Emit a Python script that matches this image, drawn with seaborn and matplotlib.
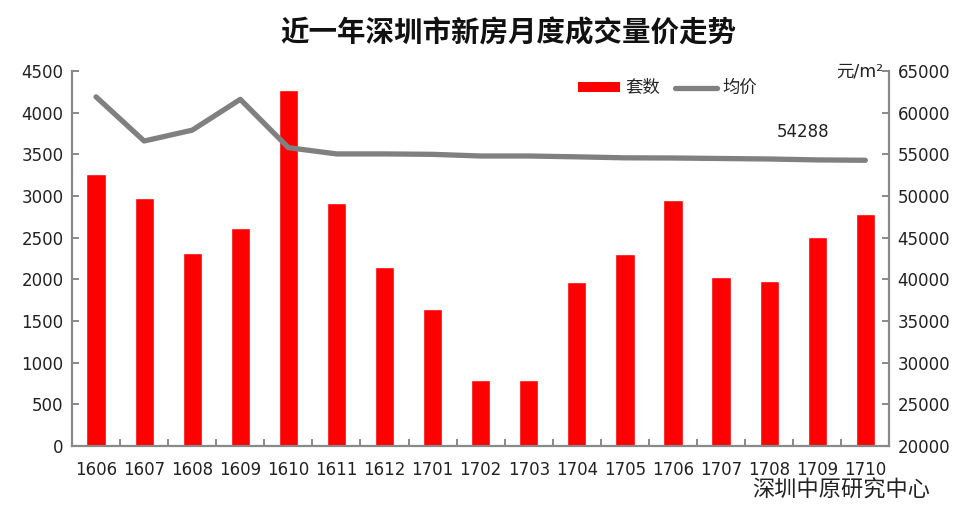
import numpy as np
import pandas as pd
import matplotlib.pyplot as plt
import seaborn as sns
from matplotlib.patches import Patch
from matplotlib.lines import Line2D
from matplotlib.ticker import FixedLocator

# 数据
months = ['1606', '1607', '1608', '1609', '1610', '1611', '1612', '1701', '1702',
          '1703', '1704', '1705', '1706', '1707', '1708', '1709', '1710']
units = [3260, 2980, 2310, 2620, 4270, 2920, 2150, 1645, 795,
         795, 1970, 2305, 2955, 2025, 1980, 2510, 2785]
avg_price = [61900, 56600, 57900, 61600, 55800, 55050, 55050, 55000, 54800,
             54800, 54700, 54580, 54560, 54500, 54440, 54330, 54288]

sns.set_theme(style='white')
plt.rcParams['font.family'] = ['DejaVu Sans', 'Noto Sans CJK SC']

df = pd.DataFrame({'month': months, 'units': units, 'price': avg_price})
df['idx'] = np.arange(len(df))

fig = plt.figure(figsize=(9.77, 5.09), dpi=100)
ax = fig.add_axes([0.0737, 0.1238, 0.8366, 0.7367])

sns.barplot(data=df, x='month', y='units', color='#FF0000', saturation=1,
            width=0.4, ax=ax)
ax.set_xlim(-0.5, len(months) - 0.5)
ax.set_ylim(0, 4500)
ax.set_yticks(range(0, 4501, 500))
ax.set_xlabel('')
ax.set_ylabel('')

ax2 = ax.twinx()
sns.lineplot(data=df, x='idx', y='price', color='#808080', linewidth=3.8,
             ax=ax2, solid_joinstyle='round', solid_capstyle='round')
ax2.set_ylim(20000, 65000)
ax2.set_yticks(range(20000, 65001, 5000))
ax2.set_ylabel('')
ax2.set_xlabel('')
ax.set_xlim(-0.5, len(months) - 0.5)

spine_c = '#898989'
for a in (ax, ax2):
    for s in ['left', 'bottom', 'right']:
        a.spines[s].set_color(spine_c)
        a.spines[s].set_linewidth(1.6)
    a.spines['top'].set_visible(False)

ax.spines['right'].set_visible(False)
ax2.spines['left'].set_visible(False)
ax2.spines['bottom'].set_visible(False)

# 刻度
ax.tick_params(axis='y', direction='in', length=5, width=1.4, color=spine_c,
               labelsize=12, pad=6, labelcolor='#222222')
ax.tick_params(axis='x', which='major', length=0, labelsize=12, pad=11,
               labelcolor='#222222')
ax.xaxis.set_minor_locator(FixedLocator(np.arange(-0.5, len(months), 1.0)))
ax.tick_params(axis='x', which='minor', direction='in', length=5, width=1.4,
               color=spine_c, bottom=True)
ax2.tick_params(axis='y', direction='in', length=5, width=1.4, color=spine_c,
                labelsize=12, pad=6, labelcolor='#222222')

# 标注
ax2.text(len(months) - 1 - 1.29, 57700, f'{avg_price[-1]}', fontsize=12,
         color='#222222', ha='center', va='center')
fig.text(0.904, 0.86, '元/m²', fontsize=12.5, ha='right', va='center',
         color='#222222')

handles = [Patch(facecolor='#FF0000', edgecolor='none'),
           Line2D([0], [0], color='#808080', linewidth=3.8, solid_capstyle='round')]
ax2.legend(handles, ['套数', '均价'], loc='upper left', bbox_to_anchor=(0.6, 1.02),
           ncol=2, frameon=False, fontsize=12.5, handlelength=2.4,
           handletextpad=0.3, columnspacing=0.9, handleheight=0.5)

fig.text(0.52, 0.935, '近一年深圳市新房月度成交量价走势', fontsize=20.5,
         fontweight='bold', ha='center', va='center', color='#111111')
fig.text(0.952, 0.037, '深圳中原研究中心', fontsize=16, ha='right', va='center',
         color='#222222')

fig.savefig('out.png', dpi=100, facecolor='white')
